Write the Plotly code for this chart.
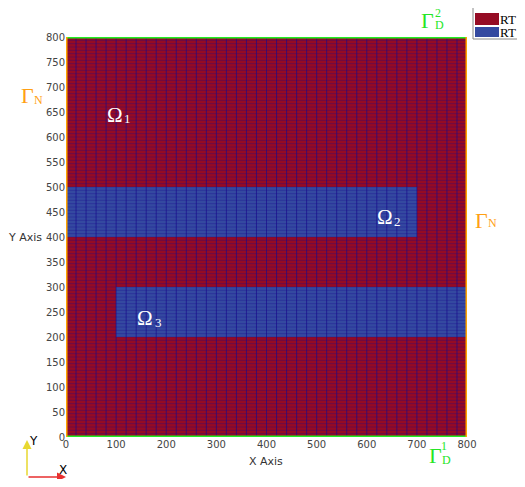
import numpy as np
import plotly.graph_objects as go

# ---- data ----
domain_size = 800
n_cols = 40
n_rows = 120
# blue (RT 1) subdomains: [x0, x1, y0, y1]
omega2 = [0, 700, 400, 500]
omega3 = [100, 800, 200, 300]
blue_regions = [omega2, omega3]
x_ticks = [0, 100, 200, 300, 400, 500, 600, 700, 800]
y_ticks = [0, 50, 100, 150, 200, 250, 300, 350, 400, 450, 500, 550, 600, 650, 700, 750, 800]
legend_labels = ["RT 0", "RT 1"]
red = "#950b24"
blue = "#3449a0"

# ---- layout helpers (page pixel -> paper) ----
OFF = 8  # default body margin of the page
W, H = 525 - OFF, 487 - 2 * OFF
L, R, T, B = 66, 467, 37, 437  # plot area in page pixels
def px(x):
    return (x - L) / (R - L)
def py(y):
    return (B - y) / (B - T)

dx = domain_size / n_cols
dy = domain_size / n_rows
xc = (np.arange(n_cols) + 0.5) * dx
yc = (np.arange(n_rows) + 0.5) * dy
z = np.zeros((n_rows, n_cols))
for (x0, x1, y0, y1) in blue_regions:
    mask_x = (xc > x0) & (xc < x1)
    mask_y = (yc > y0) & (yc < y1)
    z[np.ix_(mask_y, mask_x)] = 1

fig = go.Figure()
fig.add_trace(go.Heatmap(x=xc, y=yc, z=z, zmin=0, zmax=1,
                         colorscale=[[0, red], [0.5, red], [0.5, blue], [1, blue]],
                         showscale=False, hoverinfo="skip"))

# grid lines
vx, vy = [], []
for k in range(1, n_cols):
    vx += [k * dx, k * dx, None]
    vy += [0, domain_size, None]
hx, hy = [], []
for k in range(1, n_rows):
    hx += [0, domain_size, None]
    hy += [k * dy, k * dy, None]
fig.add_trace(go.Scatter(x=hx, y=hy, mode="lines", line=dict(color="rgba(25,10,140,0.45)", width=0.7),
                         hoverinfo="skip", showlegend=False))
fig.add_trace(go.Scatter(x=vx, y=vy, mode="lines", line=dict(color="rgba(25,10,140,0.75)", width=0.9),
                         hoverinfo="skip", showlegend=False))

shapes = []
# boundaries
shapes.append(dict(type="line", xref="x", yref="y", x0=0, x1=domain_size, y0=domain_size, y1=domain_size, line=dict(color="#22ee22", width=3)))
shapes.append(dict(type="line", xref="x", yref="y", x0=0, x1=domain_size, y0=0, y1=0, line=dict(color="#22ee22", width=3)))
shapes.append(dict(type="line", xref="x", yref="y", x0=0, x1=0, y0=0, y1=domain_size, line=dict(color="#ffa500", width=3)))
shapes.append(dict(type="line", xref="x", yref="y", x0=domain_size, x1=domain_size, y0=0, y1=domain_size, line=dict(color="#ffa500", width=3)))
# legend box
shapes.append(dict(type="rect", xref="paper", yref="paper", x0=px(473), x1=px(540), y0=py(1), y1=py(39),
                   line=dict(color="#888888", width=1), fillcolor="white"))
shapes.append(dict(type="rect", xref="paper", yref="paper", x0=px(475), x1=px(499), y0=py(13), y1=py(25),
                   line=dict(width=0), fillcolor=red))
shapes.append(dict(type="rect", xref="paper", yref="paper", x0=px(475), x1=px(499), y0=py(27), y1=py(37),
                   line=dict(width=0), fillcolor=blue))

ann = []
def text(x, y, s, size, color, family="Liberation Serif, DejaVu Serif, serif", xanchor="center"):
    ann.append(dict(xref="paper", yref="paper", x=px(x), y=py(y), text=s, showarrow=False,
                    font=dict(size=size, color=color, family=family), xanchor=xanchor, yanchor="middle"))

text(498, 19, legend_labels[0], 13, "black", xanchor="left")
text(498, 32, legend_labels[1], 13, "black", xanchor="left")

green = "#26e626"
orange = "#ffa014"
# Gamma_D^2
text(427, 20, "Γ", 22, green)
text(438, 13, "2", 12, green)
text(439, 25, "D", 12, green)
# Gamma_D^1
text(435, 455, "Γ", 22, green)
text(444, 446, "1", 12, green)
text(446, 460, "D", 12, green)
# Gamma_N
text(27, 96, "Γ", 22, orange)
text(38, 100, "N", 12, orange)
text(481, 220, "Γ", 22, orange)
text(492, 223, "N", 12, orange)
# Omegas
text(115, 115, "Ω", 21, "white")
text(127, 119, "1", 13, "white")
text(385, 217, "Ω", 21, "white")
text(397, 221, "2", 13, "white")
text(145, 318, "Ω", 21, "white")
text(158, 322, "3", 13, "white")
# axis titles
sans = "DejaVu Sans, sans-serif"
text(266, 461, "X Axis", 11, "#333333", family=sans)
text(25, 237, "Y Axis", 11, "#333333", family=sans)
# triad
ann.append(dict(xref="paper", yref="paper", x=px(27), y=py(440), ax=0, ay=37,
                text="", showarrow=True, arrowhead=2, arrowsize=1.2, arrowwidth=1.5, arrowcolor="#e8d830"))
ann.append(dict(xref="paper", yref="paper", x=px(66), y=py(477), ax=-39, ay=0,
                text="", showarrow=True, arrowhead=2, arrowsize=1.2, arrowwidth=1.5, arrowcolor="#e83030"))
text(33, 441, "Y", 12, "black", family=sans)
text(63, 470, "X", 12, "black", family=sans)

fig.update_layout(
    width=W, height=H,
    margin=dict(l=L - OFF, r=(W + OFF) - R, t=T - OFF, b=(H + OFF) - B),
    plot_bgcolor="white", paper_bgcolor="white",
    showlegend=False,
    shapes=shapes, annotations=ann,
    xaxis=dict(range=[0, domain_size], tickvals=x_ticks, showgrid=False, zeroline=False, showline=False,
               ticks="", tickfont=dict(size=10, color="#444444", family=sans)),
    yaxis=dict(range=[0, domain_size], tickvals=y_ticks, showgrid=False, zeroline=False, showline=False,
               ticks="", tickfont=dict(size=10, color="#444444", family=sans)),
)
fig.write_html("out.html")
